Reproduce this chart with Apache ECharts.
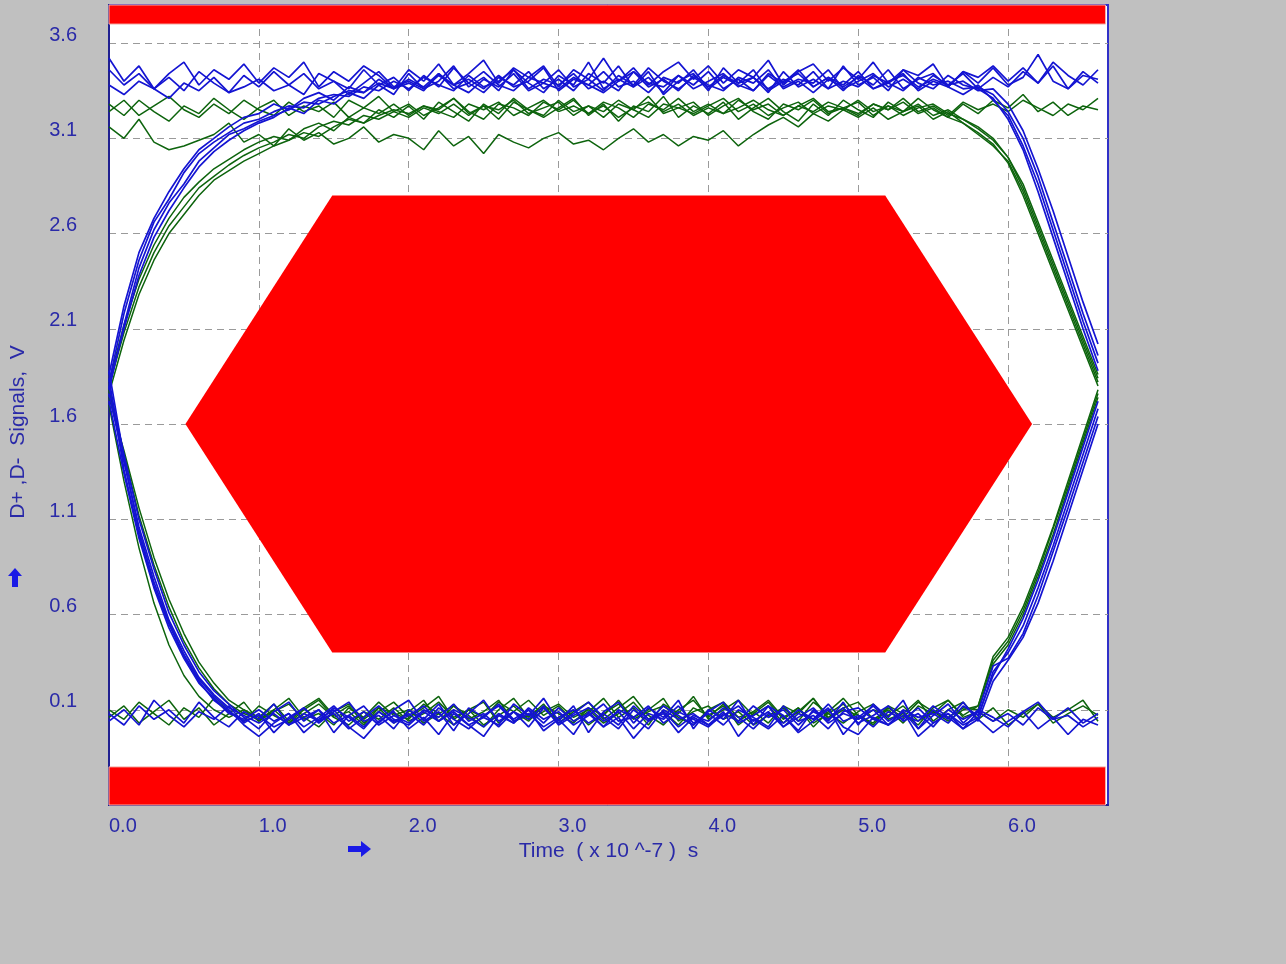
<!DOCTYPE html>
<html>
<head>
<meta charset="utf-8">
<script src="https://cdn.jsdelivr.net/npm/echarts@6/dist/echarts.min.js"></script>
<style>
html,body{margin:0;padding:0;background:#c0c0c0;}
#eye{width:1286px;height:964px;}
</style>
</head>
<body>
<div id="eye"></div>
<script>
// sample times (x10^-7 s)
var TIME = [0.0,0.1,0.2,0.3,0.4,0.5,0.6,0.7,0.8,0.9,
  1.0,1.1,1.2,1.3,1.4,1.5,1.6,1.7,1.8,1.9,
  2.0,2.1,2.2,2.3,2.4,2.5,2.6,2.7,2.8,2.9,
  3.0,3.1,3.2,3.3,3.4,3.5,3.6,3.7,3.8,3.9,
  4.0,4.1,4.2,4.3,4.4,4.5,4.6,4.7,4.8,4.9,
  5.0,5.1,5.2,5.3,5.4,5.5,5.6,5.7,5.8,5.9,
  6.0,6.1,6.2,6.3,6.4,6.5,6.6];

// blue traces (D+)
var blue1 = [3.46,3.38,3.44,3.36,3.42,3.35,3.45,3.39,3.34,3.43,
  3.37,3.45,3.38,3.33,3.44,3.40,3.36,3.46,3.38,3.42,
  3.35,3.43,3.37,3.47,3.39,3.34,3.42,3.38,3.45,3.36,
  3.41,3.35,3.44,3.39,3.48,3.37,3.42,3.34,3.43,3.38,
  3.45,3.36,3.41,3.35,3.44,3.39,3.46,3.37,3.42,3.35,
  3.43,3.38,3.46,3.36,3.41,3.44,3.37,3.45,3.39,3.47,
  3.38,3.42,3.54,3.40,3.36,3.45,3.39];
var blue2 = [1.82,2.18,2.46,2.66,2.78,2.92,3.02,3.08,3.13,3.18,
  3.20,3.24,3.27,3.26,3.31,3.33,3.32,3.37,3.35,3.40,
  3.36,3.42,3.38,3.35,3.43,3.37,3.40,3.46,3.36,3.41,
  3.38,3.44,3.36,3.40,3.35,3.45,3.39,3.37,3.43,3.36,
  3.40,3.44,3.37,3.42,3.36,3.41,3.38,3.45,3.36,3.40,
  3.37,3.43,3.39,3.35,3.42,3.38,3.40,3.36,3.37,3.33,
  3.24,3.10,2.90,2.66,2.42,2.18,1.96];
var blue3 = [1.78,2.12,2.42,2.62,2.76,2.86,2.98,3.05,3.12,3.15,
  3.19,3.22,3.25,3.29,3.28,3.32,3.35,3.34,3.39,3.36,
  3.41,3.37,3.44,3.36,3.39,3.45,3.38,3.35,3.42,3.39,
  3.46,3.37,3.41,3.35,3.43,3.38,3.47,3.40,3.36,3.42,
  3.37,3.43,3.39,3.46,3.35,3.40,3.44,3.37,3.42,3.38,
  3.45,3.36,3.40,3.43,3.37,3.41,3.38,3.44,3.36,3.42,
  3.37,3.45,3.39,3.48,3.36,3.43,3.41];
var blue4 = [1.76,1.40,1.06,0.80,0.57,0.41,0.27,0.18,0.11,0.07,
  0.03,0.08,0.02,0.06,0.10,0.03,0.07,0.01,0.09,0.04,
  0.08,0.02,0.11,0.05,0.00,0.07,0.12,0.04,0.08,0.01,
  0.06,0.10,0.03,0.08,0.02,0.12,0.05,0.09,0.01,0.07,
  0.04,0.11,0.06,0.00,0.08,0.03,0.10,0.05,0.13,0.04,
  0.07,0.01,0.09,0.05,0.11,0.03,0.08,0.02,0.06,0.30,
  0.40,0.54,0.74,0.96,1.20,1.44,1.68];
var blue5 = [1.84,1.36,1.02,0.75,0.55,0.38,0.25,0.15,0.09,0.04,
  0.07,0.01,0.05,0.11,0.04,0.08,0.00,0.06,0.12,0.05,
  0.02,0.09,0.04,0.10,0.06,0.01,0.08,0.03,0.11,0.05,
  0.09,0.02,0.07,0.13,0.04,0.06,0.00,0.10,0.05,0.08,
  0.02,0.07,0.12,0.04,0.09,0.01,0.06,0.11,0.03,0.08,
  0.05,0.10,0.02,0.07,0.04,0.12,0.06,0.00,0.09,0.04,
  0.08,0.02,0.11,0.05,0.07,0.01,0.06];
var blue6 = [0.04,0.10,0.02,0.15,0.07,0.01,0.09,0.05,0.12,0.03,
  0.08,-0.02,0.06,0.11,0.03,0.09,0.14,0.04,0.07,0.00,
  0.10,0.05,0.13,0.02,0.08,0.15,0.04,0.09,0.01,0.11,
  0.03,0.08,0.14,0.06,0.00,0.10,0.04,0.12,0.07,0.02,
  0.09,0.14,0.03,0.07,0.12,0.01,0.08,0.05,0.11,-0.03,
  0.06,0.12,0.04,0.09,0.00,0.07,0.13,0.03,0.10,0.06,
  0.01,0.09,0.14,0.05,0.11,0.03,0.08];
var blue7 = [3.38,3.33,3.40,3.36,3.31,3.39,3.35,3.42,3.34,3.37,
  3.41,3.35,3.38,3.44,3.36,3.40,3.33,3.39,3.45,3.37,
  3.40,3.36,3.43,3.38,3.34,3.41,3.37,3.44,3.35,3.39,
  3.36,3.42,3.38,3.34,3.40,3.45,3.37,3.41,3.35,3.43,
  3.38,3.35,3.42,3.39,3.46,3.36,3.40,3.34,3.41,3.37,
  3.42,3.36,3.39,3.44,3.35,3.40,3.37,3.33,3.38,3.30,
  3.22,3.06,2.86,2.62,2.38,2.14,1.92];
var blue8 = [0.08,0.02,0.12,0.05,0.10,0.03,0.14,0.06,0.01,0.09,
  0.05,0.13,0.02,0.08,0.04,0.11,0.06,0.00,0.09,0.03,
  0.07,0.12,0.04,0.09,0.02,0.06,0.13,0.05,0.10,0.03,
  0.11,0.04,0.08,0.01,0.10,0.06,0.12,0.03,0.09,0.05,
  0.01,0.08,0.04,0.12,0.06,0.10,0.02,0.09,0.05,0.11,
  0.03,0.07,0.12,0.04,0.08,0.01,0.10,0.05,0.09,0.33,
  0.37,0.50,0.70,0.93,1.16,1.40,1.64];
var blue9 = [1.86,2.22,2.50,2.68,2.82,2.94,3.04,3.10,3.16,3.21,
  3.23,3.28,3.25,3.31,3.34,3.30,3.37,3.34,3.41,3.36,
  3.39,3.35,3.44,3.38,3.41,3.36,3.43,3.37,3.40,3.47,
  3.35,3.41,3.38,3.45,3.37,3.40,3.34,3.42,3.39,3.46,
  3.36,3.42,3.38,3.35,3.43,3.37,3.41,3.39,3.46,3.36,
  3.40,3.44,3.37,3.41,3.36,3.43,3.38,3.40,3.35,3.36,
  3.28,3.14,2.94,2.72,2.48,2.24,2.02];
var blue10 = [1.72,1.34,1.00,0.74,0.53,0.37,0.24,0.16,0.08,0.05,
  0.10,0.04,0.08,0.01,0.06,0.12,0.04,0.09,0.02,0.07,
  0.03,0.10,0.06,0.13,0.04,0.08,0.01,0.09,0.05,0.12,
  0.02,0.07,0.11,0.04,0.09,0.00,0.08,0.05,0.12,0.03,
  0.08,0.02,0.10,0.06,0.01,0.12,0.04,0.07,0.00,0.09,
  0.11,0.05,0.02,0.10,0.06,0.08,0.03,0.12,0.07,0.28,
  0.42,0.58,0.78,1.00,1.24,1.48,1.72];
var blue11 = [1.80,2.10,2.38,2.58,2.72,2.84,2.95,3.03,3.09,3.14,
  3.18,3.21,3.26,3.23,3.30,3.28,3.34,3.31,3.38,3.33,
  3.44,3.36,3.40,3.48,3.37,3.42,3.35,3.46,3.39,3.34,
  3.43,3.38,3.50,3.36,3.41,3.37,3.45,3.33,3.40,3.44,
  3.35,3.47,3.39,3.42,3.34,3.45,3.37,3.41,3.36,3.48,
  3.38,3.42,3.35,3.46,3.39,3.36,3.43,3.38,3.36,3.31,
  3.20,3.04,2.82,2.58,2.34,2.10,1.88];
var blue12 = [1.80,1.44,1.10,0.84,0.61,0.44,0.30,0.20,0.13,0.06,
  0.00,0.09,0.14,0.04,0.10,-0.02,0.07,0.12,0.03,0.10,
  0.15,0.04,0.09,-0.01,0.11,0.06,0.02,0.13,0.07,0.16,
  0.04,0.12,-0.02,0.09,0.14,0.03,0.11,0.06,0.15,0.00,
  0.10,0.05,0.15,0.02,0.12,0.07,-0.01,0.10,0.04,0.14,
  0.02,0.13,0.06,0.15,0.00,0.10,0.05,0.14,0.04,0.25,
  0.36,0.48,0.66,0.88,1.12,1.36,1.60];
var blue13 = [3.52,3.40,3.48,3.36,3.44,3.50,3.38,3.46,3.41,3.49,
  3.39,3.47,3.42,3.50,3.37,3.45,3.40,3.48,3.43,3.36,
  3.46,3.40,3.49,3.38,3.44,3.51,3.39,3.47,3.42,3.48,
  3.37,3.46,3.41,3.52,3.40,3.47,3.38,3.45,3.50,3.41,
  3.48,3.39,3.46,3.42,3.51,3.38,3.45,3.49,3.40,3.47,
  3.41,3.50,3.39,3.46,3.43,3.49,3.37,3.45,3.42,3.48,
  3.40,3.47,3.39,3.50,3.43,3.38,3.46];
var blue14 = [1.88,1.42,1.04,0.77,0.56,0.39,0.26,0.17,0.10,0.02,
  -0.04,0.03,0.08,-0.02,0.05,0.10,0.01,-0.05,0.04,0.09,
  0.00,0.06,-0.03,0.08,0.02,-0.04,0.07,0.03,0.10,-0.01,
  0.05,-0.03,0.09,0.01,0.06,-0.05,0.04,0.08,-0.02,0.06,
  0.02,0.09,-0.04,0.05,0.00,0.07,-0.02,0.04,0.10,0.01,
  -0.03,0.06,0.02,0.09,-0.04,0.03,0.08,0.00,0.05,-0.02,
  0.04,0.09,0.00,0.06,-0.03,0.05,0.02];

// green traces (D-)
var green1 = [3.28,3.22,3.30,3.24,3.19,3.27,3.23,3.31,3.25,3.20,
  3.26,3.30,3.22,3.27,3.24,3.29,3.21,3.26,3.32,3.24,
  3.28,3.22,3.26,3.31,3.23,3.27,3.20,3.29,3.25,3.22,
  3.30,3.24,3.27,3.21,3.28,3.25,3.32,3.23,3.26,3.29,
  3.22,3.27,3.31,3.24,3.20,3.28,3.25,3.30,3.23,3.26,
  3.29,3.22,3.27,3.24,3.31,3.25,3.21,3.28,3.23,3.30,
  3.26,3.33,3.24,3.29,3.22,3.27,3.25];
var green2 = [3.16,3.10,3.20,3.08,3.04,3.06,3.09,3.12,3.18,3.08,
  3.12,3.06,3.15,3.09,3.13,3.07,3.10,3.16,3.08,3.12,
  3.10,3.04,3.14,3.06,3.11,3.02,3.12,3.08,3.05,3.10,
  3.13,3.07,3.09,3.04,3.10,3.15,3.08,3.12,3.06,3.11,
  3.09,3.14,3.06,3.12,3.17,3.21,3.16,3.23,3.19,3.25,
  3.21,3.26,3.20,3.24,3.28,3.22,3.25,3.20,3.16,3.10,
  3.00,2.84,2.64,2.44,2.24,2.04,1.84];
var green3 = [1.80,2.08,2.32,2.50,2.64,2.74,2.84,2.90,2.96,3.01,
  3.05,3.08,3.12,3.10,3.16,3.19,3.17,3.22,3.20,3.24,
  3.21,3.26,3.23,3.28,3.22,3.27,3.25,3.30,3.23,3.26,
  3.29,3.22,3.27,3.24,3.30,3.25,3.21,3.28,3.26,3.23,
  3.27,3.31,3.24,3.28,3.22,3.26,3.29,3.23,3.27,3.25,
  3.30,3.24,3.27,3.22,3.26,3.28,3.23,3.20,3.15,3.09,
  3.00,2.86,2.66,2.46,2.26,2.06,1.86];
var green4 = [1.76,2.04,2.28,2.46,2.60,2.70,2.80,2.88,2.93,2.98,
  3.02,3.06,3.09,3.13,3.11,3.16,3.20,3.18,3.22,3.25,
  3.23,3.27,3.24,3.21,3.28,3.25,3.29,3.22,3.26,3.30,
  3.24,3.27,3.23,3.29,3.26,3.21,3.28,3.25,3.31,3.24,
  3.28,3.23,3.26,3.30,3.25,3.22,3.27,3.24,3.29,3.26,
  3.23,3.28,3.25,3.31,3.24,3.27,3.22,3.29,3.25,3.28,
  3.24,3.30,3.26,3.22,3.28,3.25,3.31];
var green5 = [1.78,1.44,1.12,0.86,0.64,0.46,0.32,0.21,0.13,0.08,
  0.05,0.10,0.03,0.08,0.13,0.06,0.02,0.09,0.05,0.11,
  0.04,0.08,0.14,0.06,0.10,0.02,0.07,0.12,0.05,0.09,
  0.13,0.06,0.10,0.03,0.08,0.14,0.05,0.09,0.02,0.11,
  0.07,0.12,0.04,0.09,0.15,0.06,0.11,0.03,0.08,0.13,
  0.05,0.10,0.07,0.12,0.04,0.09,0.06,0.11,0.10,0.34,
  0.44,0.60,0.80,1.02,1.26,1.50,1.74];
var green6 = [1.70,1.30,0.95,0.66,0.44,0.28,0.17,0.10,0.06,0.10,
  0.04,0.09,0.13,0.05,0.08,0.02,0.11,0.06,0.14,0.07,
  0.10,0.03,0.08,0.12,0.05,0.09,0.15,0.04,0.07,0.11,
  0.05,0.10,0.02,0.08,0.13,0.06,0.10,0.16,0.04,0.09,
  0.12,0.05,0.09,0.02,0.07,0.11,0.04,0.14,0.08,0.03,
  0.09,0.13,0.05,0.08,0.02,0.11,0.15,0.06,0.09,0.04,
  0.10,0.06,0.13,0.03,0.08,0.12,0.07];
var green7 = [0.10,0.05,0.14,0.08,0.02,0.11,0.06,0.16,0.09,0.04,
  0.12,0.07,0.03,0.10,0.15,0.06,0.09,0.02,0.11,0.08,
  0.05,0.13,0.08,0.02,0.10,0.06,0.14,0.09,0.04,0.12,
  0.08,0.03,0.11,0.07,0.15,0.05,0.09,0.12,0.06,0.02,
  0.10,0.14,0.06,0.09,0.03,0.12,0.08,0.16,0.05,0.10,
  0.07,0.02,0.11,0.06,0.14,0.09,0.04,0.10,0.12,0.36,
  0.46,0.62,0.82,1.05,1.28,1.52,1.76];
var green8 = [3.24,3.30,3.22,3.27,3.32,3.25,3.21,3.28,3.23,3.30,
  3.25,3.22,3.29,3.24,3.27,3.21,3.30,3.26,3.23,3.28,
  3.22,3.27,3.25,3.31,3.24,3.20,3.28,3.26,3.22,3.29,
  3.25,3.30,3.23,3.27,3.21,3.26,3.29,3.24,3.28,3.22,
  3.26,3.23,3.30,3.25,3.28,3.22,3.27,3.31,3.24,3.26,
  3.22,3.28,3.25,3.29,3.23,3.26,3.21,3.18,3.12,3.06,
  2.98,2.82,2.62,2.42,2.22,2.02,1.82];
var green9 = [1.82,2.12,2.36,2.54,2.68,2.79,2.87,2.94,2.99,3.04,
  3.08,3.11,3.09,3.15,3.18,3.14,3.21,3.18,3.25,3.21,
  3.27,3.20,3.29,3.24,3.19,3.28,3.23,3.31,3.25,3.21,
  3.26,3.31,3.22,3.28,3.19,3.27,3.24,3.32,3.21,3.27,
  3.23,3.29,3.20,3.26,3.31,3.24,3.19,3.28,3.22,3.30,
  3.25,3.21,3.29,3.24,3.27,3.20,3.24,3.18,3.13,3.07,
  2.97,2.80,2.60,2.40,2.20,2.00,1.80];
var green10 = [1.74,1.46,1.16,0.90,0.68,0.50,0.35,0.24,0.15,0.10,
  0.06,0.13,0.04,0.11,0.16,0.07,0.12,0.03,0.09,0.14,
  0.06,0.11,0.17,0.05,0.10,0.14,0.03,0.09,0.15,0.07,
  0.12,0.04,0.09,0.16,0.06,0.11,0.02,0.13,0.08,0.17,
  0.05,0.10,0.15,0.07,0.12,0.03,0.09,0.16,0.06,0.11,
  0.14,0.05,0.10,0.03,0.12,0.08,0.15,0.07,0.12,0.38,
  0.48,0.64,0.84,1.06,1.30,1.54,1.78];
var green11 = [0.06,0.12,0.03,0.09,0.15,0.05,0.11,0.02,0.08,0.14,
  0.04,0.10,0.16,0.06,0.01,0.09,0.13,0.05,0.11,0.03,
  0.09,0.15,0.04,0.12,0.07,0.01,0.10,0.16,0.06,0.13,
  0.03,0.09,0.14,0.05,0.11,0.17,0.07,0.02,0.10,0.15,
  0.06,0.13,0.02,0.08,0.14,0.05,0.11,0.01,0.09,0.16,
  0.07,0.03,0.12,0.08,0.15,0.04,0.10,0.14,0.05,0.11,
  0.02,0.08,0.13,0.06,0.10,0.15,0.04];

// mask: hexagon and the two limit bands
var hexX = [0.51, 1.49, 5.18, 6.16, 5.18, 1.49];
var hexY = [1.60, 2.80, 2.80, 1.60, 0.40, 0.40];
var bandX0 = [0, 0];
var bandX1 = [6.65, 6.65];
var bandY0 = [3.70, -0.40];
var bandY1 = [3.80, -0.20];

var blueTraces = [blue1, blue2, blue3, blue4, blue5, blue6, blue7, blue8, blue9, blue10,
                  blue11, blue12, blue13, blue14];
var greenTraces = [green1, green2, green3, green4, green5, green6, green7, green8,
                   green9, green10, green11];

var labelColor = '#2a2aa8';
var myChart = echarts.init(document.getElementById('eye'));

function trace(vals, color, w) {
    return {
        type: 'line',
        data: TIME.map(function (t, i) { return [t, vals[i]]; }),
        symbol: 'none',
        silent: true,
        lineStyle: { color: color, width: w },
        z: 3
    };
}

var series = [{
    type: 'custom',
    data: bandX0.map(function (x, i) { return [x, bandX1[i], bandY0[i], bandY1[i]]; }),
    encode: { x: [0, 1], y: [2, 3] },
    renderItem: function (params, api) {
        var p0 = api.coord([api.value(0), api.value(3)]);
        var p1 = api.coord([api.value(1), api.value(2)]);
        return { type: 'rect', shape: { x: p0[0], y: p0[1], width: p1[0] - p0[0], height: p1[1] - p0[1] },
                 style: { fill: '#ff0000', stroke: '#f4b0a8', lineWidth: 1 } };
    },
    z: 1
}, {
    type: 'custom',
    data: hexX.map(function (x, i) { return [x, hexY[i]]; }),
    renderItem: function (params, api) {
        if (params.dataIndex !== 0) return null;
        return { type: 'polygon',
                 shape: { points: hexX.map(function (x, i) { return api.coord([x, hexY[i]]); }) },
                 style: { fill: '#ff0000' } };
    },
    z: 1
}];
greenTraces.forEach(function (v) { series.push(trace(v, '#0d640d', 1.5)); });
blueTraces.forEach(function (v) { series.push(trace(v, '#1414d2', 1.7)); });

var split = { show: true, showMinLine: false, showMaxLine: false,
              lineStyle: { color: '#9a9a9a', type: [7, 5], width: 1 } };

myChart.setOption({
    backgroundColor: '#c0c0c0',
    animation: false,
    grid: {
        left: 108, top: 5, width: 1000, height: 800,
        show: true, backgroundColor: '#ffffff',
        borderColor: '#3030c8', borderWidth: 2
    },
    xAxis: {
        type: 'value', min: 0, max: 6.6667, interval: 1,
        name: 'Time  ( x 10 ^-7 )  s', nameLocation: 'middle', nameGap: 31,
        nameTextStyle: { color: labelColor, fontSize: 21, fontFamily: 'Liberation Sans' },
        axisLine: { onZero: false, lineStyle: { color: '#202090', width: 2 } },
        axisTick: { show: false },
        axisLabel: {
            color: labelColor, fontSize: 20, fontFamily: 'Liberation Sans', align: 'left',
            margin: 11, showMaxLabel: false,
            formatter: function (v) { return v.toFixed(1); }
        },
        splitLine: split
    },
    yAxis: {
        type: 'value', min: -0.4, max: 3.8, interval: 0.5,
        name: 'D+ ,D-  Signals,  V', nameLocation: 'middle', nameGap: 80,
        nameTextStyle: { color: labelColor, fontSize: 21, fontFamily: 'Liberation Sans', padding: [0, 54, 0, 0] },
        axisLine: { onZero: false, lineStyle: { color: '#202090', width: 2 } },
        axisTick: { show: false },
        axisLabel: {
            color: labelColor, fontSize: 20, fontFamily: 'Liberation Sans',
            margin: 32, verticalAlign: 'bottom', lineHeight: 16,
            showMinLabel: false, showMaxLabel: false,
            formatter: function (v) { return v.toFixed(1); }
        },
        splitLine: split
    },
    graphic: [{
        type: 'polygon', left: 8, top: 568,
        shape: { points: [[7, 0], [14, 8], [10, 8], [10, 19], [4, 19], [4, 8], [0, 8]] },
        style: { fill: '#1a1ae6' }
    }, {
        type: 'polygon', left: 348, top: 841,
        shape: { points: [[0, 5], [13, 5], [13, 0], [23, 8], [13, 16], [13, 11], [0, 11]] },
        style: { fill: '#1a1ae6' }
    }],
    series: series
});
</script>
</body>
</html>
